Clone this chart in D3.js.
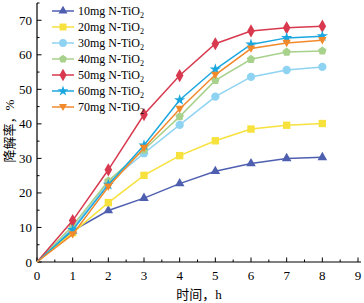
<!DOCTYPE html>
<html>
<head>
<meta charset="utf-8">
<script src="https://cdn.jsdelivr.net/npm/d3@7"></script>
<style>
  body { margin: 0; background: #fff; }
  text { font-family: "Liberation Serif", "Times New Roman", serif; }
</style>
</head>
<body>
<div id="chart"></div>
<script>
// data
const hours = [0, 1, 2, 3, 4, 5, 6, 7, 8];
const seriesNames = ["10mg", "20mg", "30mg", "40mg", "50mg", "60mg", "70mg"];
const v10 = [0, 9.0, 14.9, 18.5, 22.7, 26.3, 28.5, 30.0, 30.3];
const v20 = [0, 8.5, 17.2, 25.1, 30.8, 35.1, 38.5, 39.6, 40.1];
const v30 = [0, 9.8, 23.0, 31.5, 39.7, 47.9, 53.6, 55.6, 56.5];
const v40 = [0, 10.5, 23.5, 32.5, 42.1, 52.6, 58.7, 60.8, 61.1];
const v50 = [0, 12.0, 26.7, 42.7, 54.0, 63.2, 66.9, 67.8, 68.3];
const v60 = [0, 9.3, 22.4, 33.8, 46.9, 55.8, 63.0, 64.9, 65.4];
const v70 = [0, 8.0, 21.8, 33.0, 44.3, 54.2, 61.8, 63.4, 64.2];
const colors = ["#4f5fb0", "#f7e13c", "#8fd3f2", "#a8d18c", "#d8394e", "#1aa7df", "#f28a2c"];
const markers = ["triUp", "square", "circle", "pentagon", "diamond", "star", "triDown"];
const xTicks = [0, 1, 2, 3, 4, 5, 6, 7, 8, 9];
const yTicks = [0, 10, 20, 30, 40, 50, 60, 70];

const allValues = [v10, v20, v30, v40, v50, v60, v70];

const width = 364, height = 303;
const margin = {top: 3, right: 3, bottom: 41, left: 37};

const svg = d3.select("#chart").append("svg")
    .attr("width", width)
    .attr("height", height);

const x = d3.scaleLinear().domain([0, 9]).range([margin.left, 358]);
const y = d3.scaleLinear().domain([0, 75]).range([262, margin.top]);

// axes with inward ticks
const xAxis = svg.append("g").attr("transform", `translate(0,${y(0)})`);
xAxis.append("line").attr("x1", x(0)).attr("x2", 361).attr("stroke", "#000").attr("stroke-width", 1.2);
d3.range(0, 9.01, 0.5).forEach(t => {
    const major = t % 1 === 0;
    xAxis.append("line")
        .attr("x1", x(t)).attr("x2", x(t))
        .attr("y1", 0).attr("y2", major ? -4.5 : -2.5)
        .attr("stroke", "#000").attr("stroke-width", 1);
});
xAxis.selectAll("text.tick").data(xTicks).join("text")
    .attr("x", d => x(d)).attr("y", 18)
    .attr("text-anchor", "middle")
    .attr("font-size", 13)
    .text(d => d);

const yAxis = svg.append("g").attr("transform", `translate(${x(0)},0)`);
yAxis.append("line").attr("y1", y(0)).attr("y2", y(75)).attr("stroke", "#000").attr("stroke-width", 1.2);
d3.range(0, 75.01, 5).forEach(t => {
    const major = t % 10 === 0;
    yAxis.append("line")
        .attr("y1", y(t)).attr("y2", y(t))
        .attr("x1", 0).attr("x2", major ? 4.5 : 2.5)
        .attr("stroke", "#000").attr("stroke-width", 1);
});
yAxis.selectAll("text.tick").data(yTicks).join("text")
    .attr("x", -5).attr("y", d => y(d))
    .attr("dy", "0.35em")
    .attr("text-anchor", "end")
    .attr("font-size", 13)
    .text(d => d);

// axis titles
svg.append("text")
    .attr("x", 199).attr("y", 299)
    .attr("text-anchor", "middle")
    .attr("font-size", 13)
    .style("font-family", "'Liberation Serif', 'Noto Sans CJK SC', serif")
    .text("时间，h");
svg.append("text")
    .attr("transform", "translate(14,131) rotate(-90)")
    .attr("text-anchor", "middle")
    .attr("font-size", 13)
    .style("font-family", "'Liberation Serif', 'Noto Sans CJK SC', serif")
    .text("降解率，%");

function markerPath(type, s) {
    const r = s / 2;
    switch (type) {
        case "triUp": return d3.symbol(d3.symbolTriangle, s * s * 0.55)();
        case "triDown": return `M${-r},${-r * 0.75}L${r},${-r * 0.75}L0,${r * 1.0}Z`;
        case "square": return d3.symbol(d3.symbolSquare, s * s * 0.75)();
        case "circle": return d3.symbol(d3.symbolCircle, s * s * 0.75)();
        case "diamond": return d3.symbol(d3.symbolDiamond, s * s * 0.7)();
        case "star": return d3.symbol(d3.symbolStar, s * s * 0.55)();
        case "pentagon": {
            const pts = d3.range(5).map(i => {
                const a = -Math.PI / 2 + i * 2 * Math.PI / 5;
                return [Math.cos(a) * r * 1.05, Math.sin(a) * r * 1.05];
            });
            return "M" + pts.join("L") + "Z";
        }
    }
}

const line = d3.line().x((d, i) => x(hours[i])).y(d => y(d));

allValues.forEach((vals, k) => {
    const g = svg.append("g");
    g.append("path")
        .datum(vals)
        .attr("d", line)
        .attr("fill", "none")
        .attr("stroke", colors[k])
        .attr("stroke-width", 1.5);
    g.selectAll("path.m").data(vals.slice(1)).join("path")
        .attr("class", "m")
        .attr("transform", (d, i) => `translate(${x(hours[i + 1])},${y(d)})`)
        .attr("d", markerPath(markers[k], 8.5))
        .attr("fill", colors[k]);
});

// legend
const legend = svg.append("g");
seriesNames.forEach((name, k) => {
    const ly = 11 + k * 16;
    legend.append("line")
        .attr("x1", 52).attr("x2", 74)
        .attr("y1", ly).attr("y2", ly)
        .attr("stroke", colors[k]).attr("stroke-width", 1.5);
    legend.append("path")
        .attr("transform", `translate(63,${ly})`)
        .attr("d", markerPath(markers[k], 8))
        .attr("fill", colors[k]);
    const t = legend.append("text")
        .attr("x", 78).attr("y", ly + 4)
        .attr("font-size", 12);
    t.append("tspan").text(name + " N-TiO");
    t.append("tspan").attr("font-size", 8).attr("dy", 3).text("2");
});
</script>
</body>
</html>
